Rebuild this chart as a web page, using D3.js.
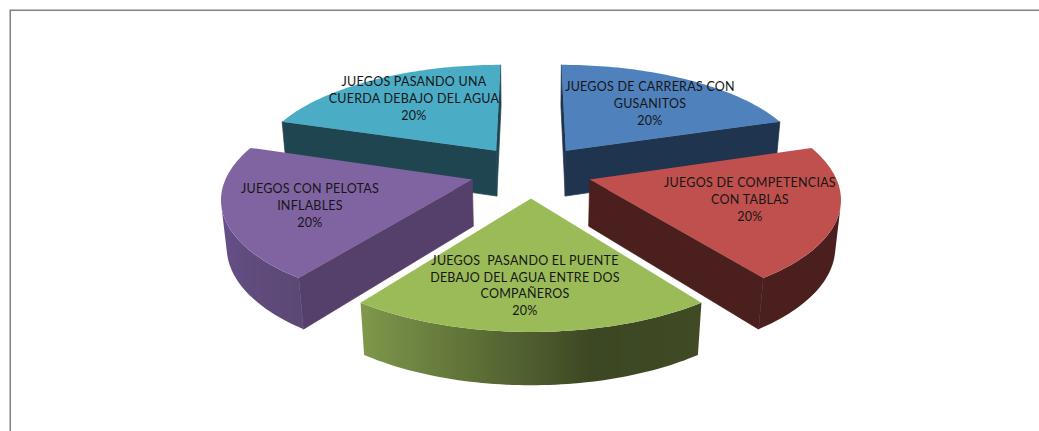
<!DOCTYPE html>
<html>
<head>
<meta charset="utf-8">
<script src="https://cdn.jsdelivr.net/npm/d3@7/dist/d3.min.js"></script>
<style>
  html, body { margin: 0; padding: 0; background: #fff; overflow: hidden; }
  svg { display: block; }
  text { font-family: Lato, "Open Sans", sans-serif; font-size: 12.5px; letter-spacing: 0.25px; fill: #161616; }
</style>
</head>
<body>
<svg id="chart" width="1039" height="431"></svg>
<script>
// Exploded 3D pie: five equal shares of water games.
const categories = [
  "JUEGOS DE CARRERAS CON\nGUSANITOS",
  "JUEGOS DE COMPETENCIAS\nCON TABLAS",
  "JUEGOS  PASANDO EL PUENTE\nDEBAJO DEL AGUA ENTRE DOS\nCOMPAÑEROS",
  "JUEGOS CON PELOTAS\nINFLABLES",
  "JUEGOS PASANDO UNA\nCUERDA DEBAJO DEL AGUA"
];
const values = [20, 20, 20, 20, 20];

const topColors = ["#4f81bd", "#c0504d", "#9bbb59", "#8064a2", "#4bacc6"];
const wallColors = ["#1f344e", "#4a1f1e", "#3c4723", "#54406a", "#1f4550"];
// Shading along the rim, from the clockwise start of a slice to its end.
const rimStops = [
  ["#1f344e", "#1f344e"],
  ["#4a1f1e", "#4a1f1e"],
  ["#404b25", "#3c4723", "#5f7238", "#80994b"],
  ["#5c4874", "#66508a", "#6e578e"],
  ["#1f4550", "#1f4550"]
];
// Centre of each slice's text block on the page.
const labelCentres = [[650, 103], [750, 199], [525, 285], [310, 205], [414, 98]];
const lineStep = 16.6;

// Camera model: ground plane (X, Y in pie radii, Y towards the viewer) onto the page.
const view = { cx: 531, cy: 171.3, fx: 1630, fy: 698, dist: 6.68, lift: 315, sink: 0.12 };
const explode = 0.25;

function project(X, Y, lower) {
  const w = view.dist - Y + (lower ? view.sink : 0);
  return [
    view.cx + view.fx * X / w,
    view.cy + (view.fy * Y + (lower ? view.lift : 0)) / w
  ];
}

const pie = d3.pie().sort(null).startAngle(0).endAngle(2 * Math.PI);
const total = d3.sum(values);
const pct = d3.format(".0%");
const line = d3.line();
const svg = d3.select("#chart");
const defs = svg.append("defs");

// Chart frame: only the top and left sides fall inside the window.
svg.append("rect")
  .attr("x", 10.25).attr("y", 10.25)
  .attr("width", 1100).attr("height", 500)
  .attr("fill", "#fff").attr("stroke", "#868686").attr("stroke-width", 1.6);

const slices = pie(values).map((d, i) => {
  const mid = (d.startAngle + d.endAngle) / 2;
  const ox = explode * Math.sin(mid);
  const oy = -explode * Math.cos(mid);
  const rim = d3.range(61).map(k => {
    const f = k / 60;
    const t = d.startAngle + f * (d.endAngle - d.startAngle);
    return { f, X: ox + Math.sin(t), Y: oy - Math.cos(t) };
  });
  return { i, d, ox, oy, rim, depth: oy };
});

// Signed area tells whether a wall faces the viewer.
const facing = quad => d3.polygonArea(quad) > 0;
const wallQuad = (a, b) => [project(a.X, a.Y), project(b.X, b.Y), project(b.X, b.Y, true), project(a.X, a.Y, true)];

const order = slices.slice().sort((a, b) => a.depth - b.depth);
order.forEach(s => {
  const g = svg.append("g");
  const apex = { X: s.ox, Y: s.oy };
  const first = s.rim[0];
  const last = s.rim[s.rim.length - 1];

  // Straight walls running in from the rim to the apex; the hairline stroke closes the seam with the rim.
  [[apex, first], [last, apex]].forEach(([a, b]) => {
    const quad = wallQuad(a, b);
    if (facing(quad)) {
      g.append("path").attr("d", line(quad) + "Z")
        .attr("fill", wallColors[s.i])
        .attr("stroke", wallColors[s.i]).attr("stroke-width", 0.7);
    }
  });

  // Curved rim wall: one shape over the part that faces the viewer, shaded across its width.
  const stops = rimStops[s.i];
  const shade = d3.scaleLinear()
    .domain(stops.map((_, k) => k / (stops.length - 1)))
    .range(stops);
  const shown = s.rim.filter((p, k) =>
    (k > 0 && facing(wallQuad(s.rim[k - 1], p))) ||
    (k < s.rim.length - 1 && facing(wallQuad(p, s.rim[k + 1]))));
  if (shown.length > 1) {
    const xs = shown.map(p => project(p.X, p.Y)[0]);
    const [x0, x1] = d3.extent(xs);
    const grad = defs.append("linearGradient")
      .attr("id", "rim" + s.i)
      .attr("gradientUnits", "userSpaceOnUse")
      .attr("x1", x0).attr("x2", x1).attr("y1", 0).attr("y2", 0);
    shown.map((p, k) => ({ off: (xs[k] - x0) / (x1 - x0), c: shade(p.f) }))
      .sort((a, b) => a.off - b.off)
      .forEach(st => grad.append("stop").attr("offset", st.off).attr("stop-color", st.c));
    const shape = shown.map(p => project(p.X, p.Y))
      .concat(shown.slice().reverse().map(p => project(p.X, p.Y, true)));
    g.append("path").attr("d", line(shape) + "Z").attr("fill", `url(#rim${s.i})`);
  }

  // Top face.
  const outline = [project(apex.X, apex.Y)].concat(s.rim.map(p => project(p.X, p.Y)));
  g.append("path").attr("d", line(outline) + "Z").attr("fill", topColors[s.i]);
});

// Labels go on last so no slice can cover them.
slices.forEach(s => {
  const lines = categories[s.i].split("\n").concat(pct(values[s.i] / total));
  const [x, yc] = labelCentres[s.i];
  const y0 = yc - (lines.length - 1) * lineStep / 2;
  svg.append("text")
    .attr("text-anchor", "middle")
    .attr("dominant-baseline", "central")
    .attr("xml:space", "preserve")
    .selectAll("tspan").data(lines).join("tspan")
    .attr("x", x)
    .attr("y", (_, k) => y0 + k * lineStep)
    .text(t => t);
});
</script>
</body>
</html>
